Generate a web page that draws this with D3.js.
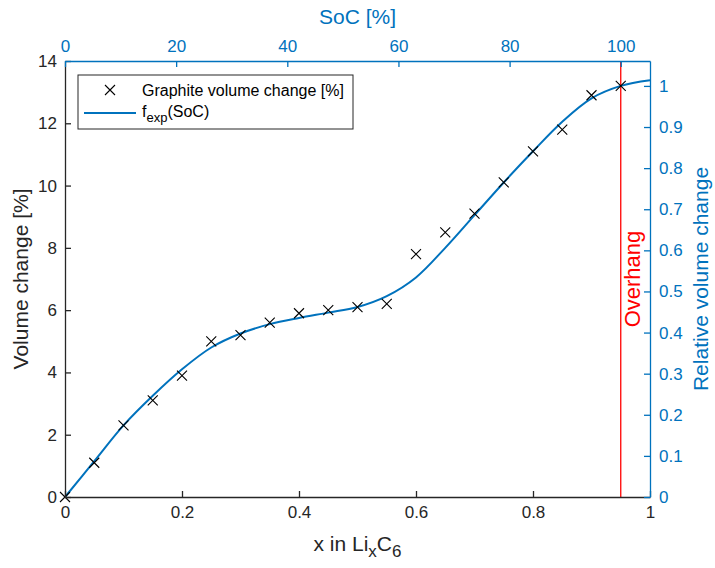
<!DOCTYPE html>
<html>
<head>
<meta charset="utf-8">
<script src="https://cdn.jsdelivr.net/npm/d3@7"></script>
<style>
  body { margin: 0; background: #fff; }
  svg { font-family: "Liberation Sans", Arial, Helvetica, sans-serif; }
</style>
</head>
<body>
<div id="vis"></div>
<script>
// measured points (x in LixC6, volume change %)
const xData = [0, 0.05, 0.1, 0.15, 0.2, 0.25, 0.3, 0.35, 0.4, 0.45, 0.5, 0.55, 0.6, 0.65, 0.7, 0.75, 0.8, 0.85, 0.9, 0.95];
const volData = [0, 1.1, 2.3, 3.1, 3.9, 5.0, 5.2, 5.6, 5.9, 6.0, 6.1, 6.2, 7.8, 8.5, 9.1, 10.1, 11.1, 11.8, 12.9, 13.2];

// fitted curve f_exp(SoC)
const xFit = [0, 0.05, 0.1, 0.15, 0.2, 0.25, 0.3, 0.35, 0.4, 0.45, 0.5, 0.55, 0.6, 0.65, 0.7, 0.75, 0.8, 0.85, 0.9, 0.95, 1.0];
const volFit = [0, 1.15, 2.3, 3.25, 4.1, 4.8, 5.25, 5.55, 5.75, 5.92, 6.1, 6.45, 7.05, 8.0, 9.05, 10.1, 11.1, 12.05, 12.8, 13.2, 13.38];

const leftTicks = [0, 2, 4, 6, 8, 10, 12, 14];
const bottomTicks = [0, 0.2, 0.4, 0.6, 0.8, 1];
const topTicks = [0, 20, 40, 60, 80, 100];
const rightTicks = [0, 0.1, 0.2, 0.3, 0.4, 0.5, 0.6, 0.7, 0.8, 0.9, 1];

const overhangX = 0.95;   // SoC 100 %
const fullValue = 13.2;   // volume change at SoC 100 %

const FRAME_WIDTH = 715;
const FRAME_HEIGHT = 568;
const MARGINS = {left: 65, right: 65, top: 61, bottom: 71};
const VIS_WIDTH = FRAME_WIDTH - MARGINS.left - MARGINS.right;
const VIS_HEIGHT = FRAME_HEIGHT - MARGINS.top - MARGINS.bottom;

const BLUE = "#0072BD";
const DARK = "#262626";

const svg = d3.select("#vis").append("svg")
  .attr("width", FRAME_WIDTH)
  .attr("height", FRAME_HEIGHT);

const g = svg.append("g")
  .attr("transform", "translate(" + MARGINS.left + "," + MARGINS.top + ")");

// scales
const X_SCALE = d3.scaleLinear().domain([0, 1]).range([0, VIS_WIDTH]);
const Y_SCALE = d3.scaleLinear().domain([0, 14]).range([VIS_HEIGHT, 0]);
const SOC_SCALE = d3.scaleLinear().domain([0, 100 / overhangX]).range([0, VIS_WIDTH]);
const REL_SCALE = d3.scaleLinear().domain([0, 14 / fullValue]).range([VIS_HEIGHT, 0]);

// overhang line
g.append("line")
  .attr("x1", X_SCALE(overhangX)).attr("x2", X_SCALE(overhangX))
  .attr("y1", 0).attr("y2", VIS_HEIGHT)
  .attr("stroke", "#FF0000").attr("stroke-width", 1.3);

g.append("text")
  .attr("transform", "translate(" + (X_SCALE(overhangX) + 19) + "," + Y_SCALE(7) + ") rotate(-90)")
  .attr("text-anchor", "middle")
  .attr("fill", "#FF0000")
  .attr("font-size", "22px")
  .text("Overhang");

// fitted curve
const line = d3.line()
  .x((d) => X_SCALE(d[0]))
  .y((d) => Y_SCALE(d[1]))
  .curve(d3.curveCatmullRom.alpha(0.5));

g.append("path")
  .datum(xFit.map((x, i) => [x, volFit[i]]))
  .attr("d", line)
  .attr("fill", "none")
  .attr("stroke", BLUE)
  .attr("stroke-width", 2);

// measured points as x markers
const S = 5;
const cross = "M" + (-S) + "," + (-S) + "L" + S + "," + S + "M" + (-S) + "," + S + "L" + S + "," + (-S);
g.selectAll(".pt")
  .data(xData.map((x, i) => [x, volData[i]]))
  .enter()
  .append("path")
    .attr("class", "pt")
    .attr("transform", (d) => "translate(" + X_SCALE(d[0]) + "," + Y_SCALE(d[1]) + ")")
    .attr("d", cross)
    .attr("stroke", "#000")
    .attr("stroke-width", 1.1)
    .attr("fill", "none");

// axes
function styleAxis(sel, color) {
  sel.selectAll("path").attr("stroke", color).attr("stroke-width", 1.3);
  sel.selectAll("line").attr("stroke", color).attr("stroke-width", 1.3);
  sel.selectAll("text").attr("fill", color).attr("font-size", "17px");
  sel.attr("font-family", null);
}

const fmt = (d) => d3.format("~g")(d);

const bottomAxis = g.append("g")
  .attr("transform", "translate(0," + VIS_HEIGHT + ")")
  .call(d3.axisBottom(X_SCALE).tickValues(bottomTicks).tickFormat(fmt)
    .tickSizeInner(-6).tickSizeOuter(0).tickPadding(9));
styleAxis(bottomAxis, DARK);

const leftAxis = g.append("g")
  .call(d3.axisLeft(Y_SCALE).tickValues(leftTicks)
    .tickSizeInner(-6).tickSizeOuter(0).tickPadding(8));
styleAxis(leftAxis, DARK);

const topAxis = g.append("g")
  .call(d3.axisTop(SOC_SCALE).tickValues(topTicks)
    .tickSizeInner(-6).tickSizeOuter(0).tickPadding(9));
styleAxis(topAxis, BLUE);

const rightAxis = g.append("g")
  .attr("transform", "translate(" + VIS_WIDTH + ",0)")
  .call(d3.axisRight(REL_SCALE).tickValues(rightTicks).tickFormat(fmt)
    .tickSizeInner(-6).tickSizeOuter(0).tickPadding(9));
styleAxis(rightAxis, BLUE);

// axis labels
svg.append("text")
  .attr("x", MARGINS.left + VIS_WIDTH / 2)
  .attr("y", 24)
  .attr("text-anchor", "middle")
  .attr("fill", BLUE)
  .attr("font-size", "21px")
  .text("SoC [%]");

const xl = svg.append("text")
  .attr("x", MARGINS.left + VIS_WIDTH / 2)
  .attr("y", 551)
  .attr("text-anchor", "middle")
  .attr("fill", DARK)
  .attr("font-size", "21px");
xl.append("tspan").text("x in Li");
xl.append("tspan").attr("dy", 6).attr("font-size", "17px").text("x");
xl.append("tspan").attr("dy", -6).text("C");
xl.append("tspan").attr("dy", 6).attr("font-size", "17px").text("6");

svg.append("text")
  .attr("transform", "translate(28," + (MARGINS.top + VIS_HEIGHT / 2) + ") rotate(-90)")
  .attr("text-anchor", "middle")
  .attr("fill", DARK)
  .attr("font-size", "21px")
  .text("Volume change [%]");

svg.append("text")
  .attr("transform", "translate(708," + (MARGINS.top + VIS_HEIGHT / 2) + ") rotate(-90)")
  .attr("text-anchor", "middle")
  .attr("fill", BLUE)
  .attr("font-size", "21px")
  .text("Relative volume change");

// legend
const legend = svg.append("g").attr("transform", "translate(78,75)");
legend.append("rect")
  .attr("width", 275).attr("height", 54)
  .attr("fill", "#fff")
  .attr("stroke", DARK).attr("stroke-width", 1);

legend.append("path")
  .attr("transform", "translate(32,15)")
  .attr("d", cross)
  .attr("stroke", "#000").attr("stroke-width", 1.1).attr("fill", "none");

legend.append("text")
  .attr("x", 64).attr("y", 21)
  .attr("fill", "#000")
  .attr("font-size", "16px")
  .text("Graphite volume change [%]");

legend.append("line")
  .attr("x1", 6).attr("x2", 58)
  .attr("y1", 38).attr("y2", 38)
  .attr("stroke", BLUE).attr("stroke-width", 2);

const lt = legend.append("text")
  .attr("x", 64).attr("y", 42)
  .attr("fill", "#000")
  .attr("font-size", "16px");
lt.append("tspan").text("f");
lt.append("tspan").attr("dy", 5).attr("font-size", "13px").text("exp");
lt.append("tspan").attr("dy", -5).text("(SoC)");
</script>
</body>
</html>
